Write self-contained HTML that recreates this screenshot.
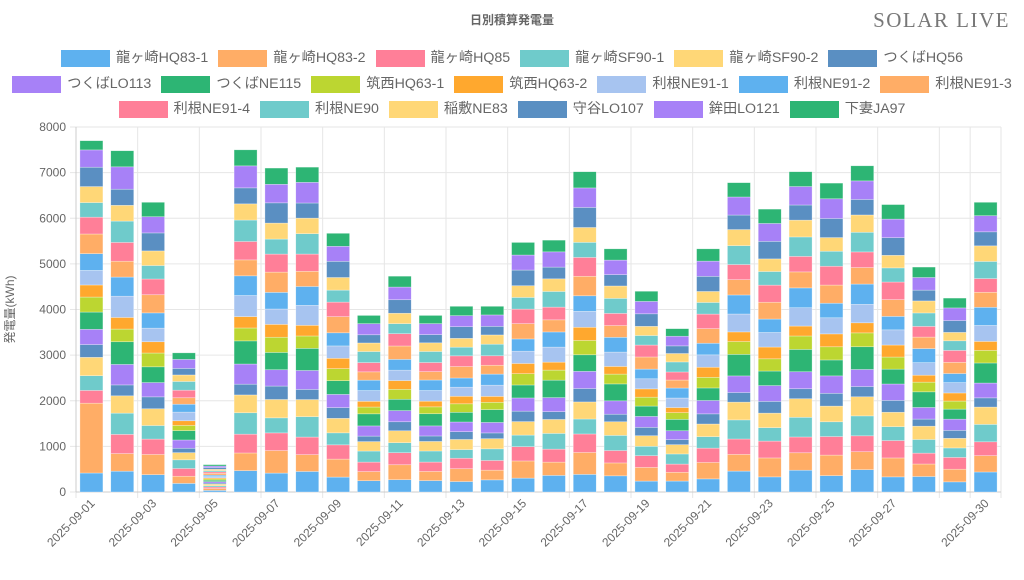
<!DOCTYPE html>
<html><head><meta charset="utf-8"><style>
body{margin:0;width:1024px;height:580px;background:#fff;overflow:hidden;font-family:"Liberation Sans","Noto Sans CJK JP",sans-serif;position:relative}
#title{position:absolute;top:11px;left:0;width:1024px;text-align:center;font-size:12px;font-weight:bold;color:#666}
#logo{position:absolute;top:8px;right:14px;font-family:"Liberation Serif",serif;font-size:21px;color:#777;letter-spacing:1.5px}
.row{position:absolute;left:0;width:1024px;display:flex;justify-content:center;font-size:14.2px;color:#666;height:18px;line-height:18px}
.it{display:flex;align-items:center;margin:0 5px}
.bx{width:45px;height:13px;border:2px solid;margin-right:6px;box-sizing:content-box}
svg{position:absolute;left:0;top:0}
</style></head><body>
<div id="title">日別積算発電量</div>
<div id="logo">SOLAR LIVE</div>
<div class="row" id="r1" style="top:49px"></div>
<div class="row" id="r2" style="top:75px"></div>
<div class="row" id="r3" style="top:100px"></div>
<svg id="c" width="1024" height="580"></svg>
<script>
var names=["龍ヶ崎HQ83-1","龍ヶ崎HQ83-2","龍ヶ崎HQ85","龍ヶ崎SF90-1","龍ヶ崎SF90-2","つくばHQ56","つくばLO113","つくばNE115","筑西HQ63-1","筑西HQ63-2","利根NE91-1","利根NE91-2","利根NE91-3","利根NE91-4","利根NE90","稲敷NE83","守谷LO107","鉾田LO121","下妻JA97"];
var cols=["#5eb1ef","#ffad66","#ff7f98","#6fcbcb","#ffd777","#5a8fc2","#a781f7","#2db574","#bcd631","#ffa82e","#a7c4f0","#5eb1ef","#ffad66","#ff7f98","#6fcbcb","#ffd777","#5a8fc2","#a781f7","#2db574"];
var rows=[[0,6],[6,13],[13,19]];
rows.forEach(function(r,i){var h="";for(var k=r[0];k<r[1];k++)h+='<div class="it"><div class="bx" style="background:'+cols[k]+';border-color:'+cols[k]+'"></div>'+names[k]+'</div>';document.getElementById("r"+(i+1)).innerHTML=h;});
var tot=[7700,7480,6350,3050,600,7500,7100,7120,5670,3870,4730,3870,4070,4070,5470,5520,7020,5330,4400,3580,5330,6780,6200,7020,6770,7150,6300,4930,4250,6350];
var w=[1.0,1.0,0.9,0.9,0.9,0.6,0.9,1.0,0.7,0.6,0.9,0.9,0.9,0.9,0.9,0.8,0.9,1.0,0.8];
var s="",L=76,R=1001,T=127,B=492,cw=(R-L)/30,py=(B-T)/8000;
for(var g=0;g<=8;g++){var y=T+g*(B-T)/8;s+='<line x1="'+(L-6)+'" x2="'+R+'" y1="'+y+'" y2="'+y+'" stroke="#e6e6e6"/>';s+='<text x="'+(L-10)+'" y="'+(y+4)+'" text-anchor="end" font-size="12" fill="#666">'+(8000-g*1000)+'</text>';}
for(var d=0;d<=30;d++){var x=L+d*cw;if(d%2==0||d==29||d==30)s+='<line x1="'+x+'" x2="'+x+'" y1="'+T+'" y2="'+(B+6)+'" stroke="#e6e6e6"/>';}
s+='<line x1="'+L+'" x2="'+L+'" y1="'+T+'" y2="'+B+'" stroke="#ccc"/><line x1="'+L+'" x2="'+R+'" y1="'+B+'" y2="'+B+'" stroke="#ccc"/>';
for(var d=0;d<30;d++){var cx=L+cw*(d+0.5),y=B,ww=w.slice();if(d==0){ww[1]=3.2;ww[2]=0.7;}var sum=ww.reduce(function(a,b){return a+b},0);
for(var k=0;k<19;k++){var h=tot[d]*ww[k]*(1+0.15*Math.sin(d*3.1+k*1.7))/sum;h=h*py;if(k==18)h=y-(B-tot[d]*py);if(h<0)h=0;y-=h;s+='<rect x="'+(cx-11.5)+'" y="'+y+'" width="23" height="'+h+'" fill="'+cols[k]+'" stroke="#fff" stroke-opacity="0.5" stroke-width="0.6"/>';}
var lab=(d%2==0&&d<28)||d==29;if(lab){var dd=("0"+(d+1)).slice(-2);s+='<text transform="translate('+(cx+4)+','+(B+12)+') rotate(-45)" text-anchor="end" font-size="12" fill="#666">2025-09-'+dd+'</text>';}}
s+='<text transform="translate(14,'+((T+B)/2)+') rotate(-90)" text-anchor="middle" font-size="12" fill="#666">発電量(kWh)</text>';
document.getElementById("c").innerHTML=s;
</script>
</body></html>
